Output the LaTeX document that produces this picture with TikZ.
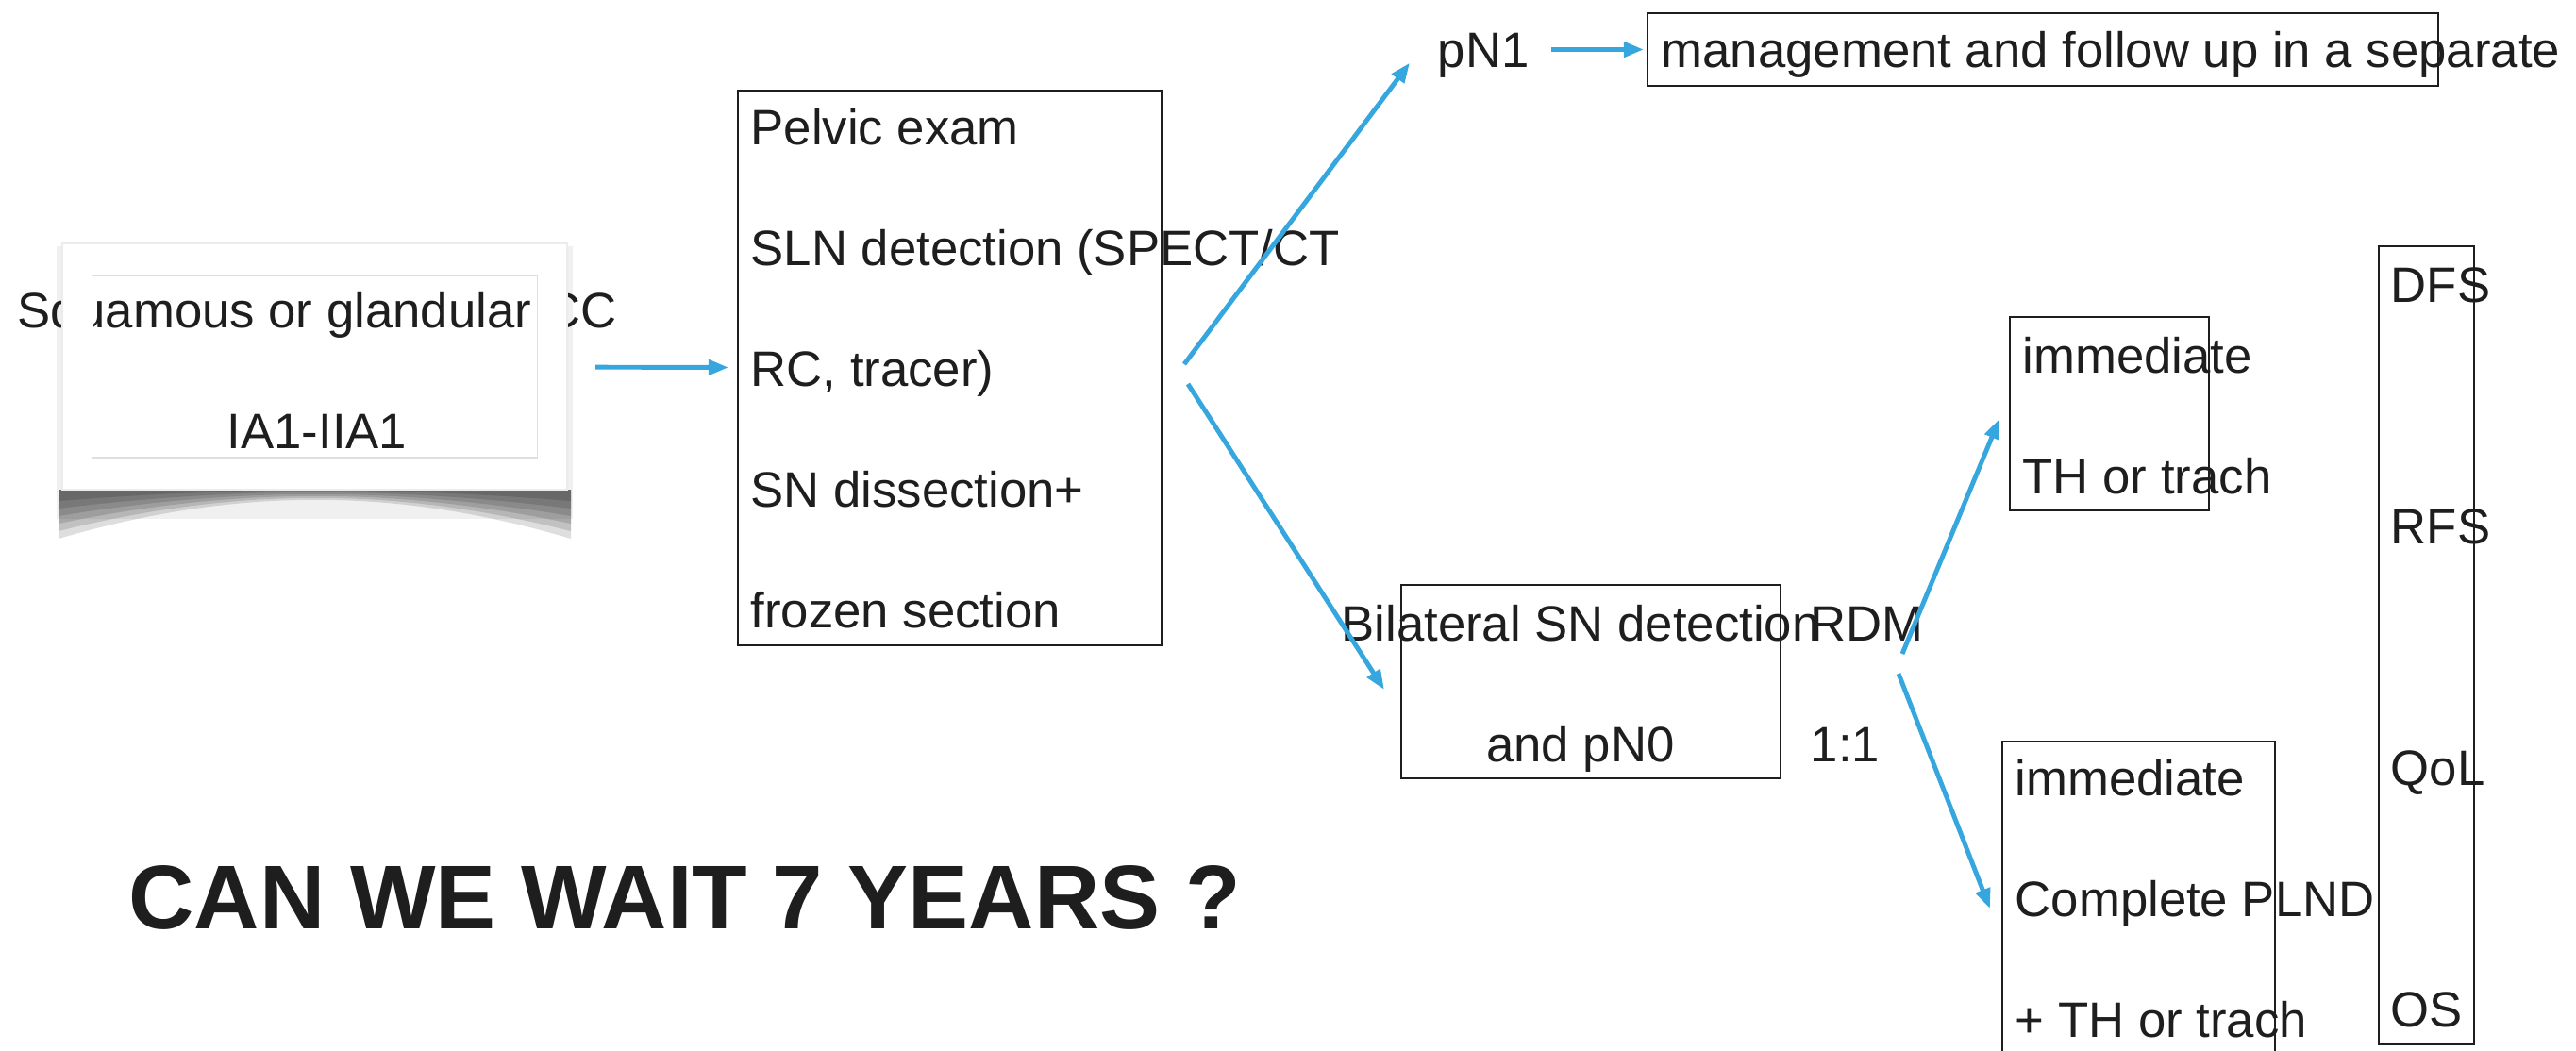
\documentclass[tikz,border=0pt]{standalone}
\usepackage{fontspec}
\setmainfont{Liberation Sans}
\usetikzlibrary{arrows.meta}
\definecolor{flowblue}{HTML}{36A6DE}
\definecolor{ink}{HTML}{1E1E1E}
\newcommand{\stepfont}{\fontsize{15}{36.4}\selectfont}

\begin{document}
\begin{tikzpicture}[
  >={Triangle[length=6pt,width=4.5pt]},
  box/.style={draw=ink, rectangle, line width=0.6pt, inner sep=0pt},
  txt/.style={inner sep=0pt, text=ink, font=\stepfont, align=left, anchor=base west},
  flow/.style={->, draw=flowblue, line width=1.4pt}]
\useasboundingbox (0,0) rectangle (27.3,-11.13);
\clip (0,0) rectangle (27.3,-11.13);

% card with its curled shadow (text base = last line)
\fill[black, opacity=0.06] (0.60,-2.61) rectangle (6.07,-5.50);
\foreach \d in {0.52,0.44,0.36,0.28,0.20,0.12}
  \fill[black, opacity=0.13] (0.62,-5.19) -- (6.05,-5.19) -- (6.05,-5.19-\d)
    .. controls (4.2,-5.16) and (2.5,-5.16) .. (0.62,-5.19-\d) -- cycle;
\fill[white] (0.66,-2.58) rectangle (6.01,-5.19);
\node[txt, align=center, anchor=base] (sqcc) at (3.36,-4.75) {Squamous or glandular CC\\IA1-IIA1};
\fill[white, even odd rule] (0.66,-2.58) rectangle (6.01,-5.19) (0.99,-2.91) rectangle (5.71,-4.84);
\node[box, draw=gray!15, minimum width=5.35cm, minimum height=2.61cm] (card) at (3.335,-3.885) {};
\node[box, draw=gray!25, line width=0.4pt, minimum width=4.72cm, minimum height=1.93cm] (cardin) at (card) {};

% work-up
\node[box, minimum width=4.49cm, minimum height=5.88cm] (pelvic) at (10.065,-3.90) {};
\node[txt] (pelvictxt) at (7.95,-6.65) {Pelvic exam\\SLN detection (SPECT/CT\\RC, tracer)\\SN dissection+\\frozen section};

% pN1 branch
\node[txt] (pn1) at (15.23,-0.71) {pN1};
\node[box, minimum width=8.38cm, minimum height=0.77cm] (mgmt) at (21.65,-0.525) {};
\node[txt] (mgmttxt) at (17.60,-0.71) {management and follow up in a separate};

% pN0 branch
\node[box, minimum width=4.02cm, minimum height=2.05cm] (bilat) at (16.86,-7.225) {};
\node[txt, align=center, anchor=base] (bilattxt) at (16.75,-8.07) {Bilateral SN detection\\and pN0};
\node[txt] (rdm) at (19.18,-8.07) {RDM\\1:1};

\node[box, minimum width=2.11cm, minimum height=2.05cm] (trbox) at (22.355,-4.385) {};
\node[txt] (trtxt) at (21.43,-5.23) {immediate\\TH or trach};
\node[box, minimum width=2.89cm, minimum height=3.54cm] (plnd) at (22.665,-9.63) {};
\node[txt] (plndtxt) at (21.35,-10.99) {immediate\\Complete PLND\\+ TH or trach};

% endpoints
\node[box, minimum width=1.01cm, minimum height=8.46cm] (outbox) at (25.715,-6.84) {};
\node[txt, font=\fontsize{15}{72.8}\selectfont] (outtxt) at (25.33,-10.88) {DFS\\RFS\\QoL\\OS};

\node[txt, font=\fontsize{27.3}{33}\selectfont\bfseries] (wait) at (1.36,-9.84) {CAN WE WAIT 7 YEARS ?};

\coordinate (forkup) at (12.55,-3.86);
\coordinate (forkdn) at (12.59,-4.07);
\coordinate (rdmup) at (20.16,-6.93);
\coordinate (rdmdn) at (20.12,-7.14);

\draw[flow, shorten <=0.29cm, shorten >=0.09cm] (card) -- (pelvic);
\draw[flow] (forkup) -- ([xshift=-0.29cm,yshift=0.16cm]pn1.south west);
\draw[flow] (forkdn) -- ([xshift=-0.17cm,yshift=-0.085cm]bilat.west);
\draw[flow, shorten <=0.23cm, shorten >=0.03cm] (pn1.east |- mgmt.west) -- (mgmt.west);
\draw[flow] (rdmup) -- ([xshift=-0.10cm,yshift=-0.055cm]trbox.west);
\draw[flow] (rdmdn) -- ([xshift=-0.12cm]plnd.west);
\end{tikzpicture}
\end{document}
